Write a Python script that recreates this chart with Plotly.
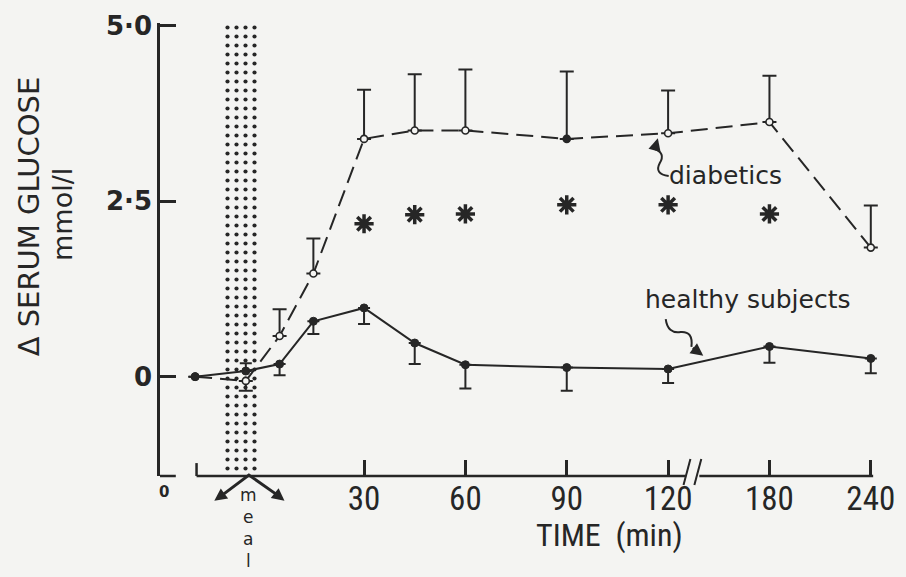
import plotly.graph_objects as go

# Sampling times (min) relative to the end of the meal
times = [-20, -5, 5, 15, 30, 45, 60, 90, 120, 180, 240]

# Change in serum glucose (mmol/l), means with one-sided SEM bars
diabetics = [0.0, -0.06, 0.58, 1.47, 3.39, 3.51, 3.51, 3.39, 3.47, 3.63, 1.84]
diabetics_err_up = [0, 0, 0.38, 0.50, 0.70, 0.80, 0.87, 0.96, 0.61, 0.66, 0.60]
diabetics_err_down = [0, 0.14, 0, 0, 0, 0, 0, 0, 0, 0, 0]

healthy = [0.0, 0.08, 0.18, 0.79, 0.98, 0.48, 0.17, 0.13, 0.11, 0.43, 0.26]
healthy_err_up = [0, 0.11, 0, 0, 0, 0, 0, 0, 0, 0, 0]
healthy_err_down = [0, 0, 0.16, 0.18, 0.23, 0.30, 0.34, 0.33, 0.20, 0.23, 0.21]

# Significant group differences
sig_times = [30, 45, 60, 90, 120, 180]
sig_level = [2.18, 2.31, 2.32, 2.45, 2.45, 2.32]

# Axis ticks
x_ticks = [30, 60, 90, 120, 180, 240]
y_ticks = [0, 2.5, 5.0]
y_tick_text = ["0", "2·5", "5·0"]

# Meal period (min)
meal_start, meal_end = -12, -1.5

INK = "#262626"
PAPER = "#f4f4f2"
NARROW = "Liberation Sans Narrow, Roboto Condensed, DejaVu Sans Condensed, Arial Narrow, sans-serif"
SANS = "DejaVu Sans, Liberation Sans, sans-serif"

# Plot-area box in pixels (used for decorations drawn in paper space)
L, R, T, B = 160, 895, 20, 476
W_FIG, H_FIG = 906, 577


def axis_pos(t):
    """Broken time axis: 120-240 min is compressed to half scale."""
    return t if t <= 120 else 120 + (t - 120) / 2


def px(x):
    return (x - L) / (R - L)


def py(y):
    return (B - y) / (B - T)


xs = [axis_pos(t) for t in times]

fig = go.Figure()

# Dotted band marking the meal
fig.add_trace(go.Bar(
    x=[(axis_pos(meal_start) + axis_pos(meal_end)) / 2],
    y=[6.8], base=[-1.6],
    width=[axis_pos(meal_end) - axis_pos(meal_start)],
    marker=dict(color="rgba(0,0,0,0)", line_width=0,
                pattern=dict(shape=".", fgcolor=INK, bgcolor="rgba(0,0,0,0)",
                             size=9, solidity=0.17, fillmode="replace")),
    hoverinfo="skip",
))

# Healthy subjects: solid line, filled dots, bars downwards
fig.add_trace(go.Scatter(
    x=xs, y=healthy, mode="lines+markers",
    line=dict(color=INK, width=2),
    marker=dict(symbol="circle", size=8, color=INK, line=dict(color=INK, width=1)),
    error_y=dict(type="data", symmetric=False, array=healthy_err_up,
                 arrayminus=healthy_err_down, color=INK, thickness=2, width=6),
    name="healthy subjects",
))

# Diabetics: dashed line, open circles, bars upwards
fill = [INK if t in (-20, 90) else PAPER for t in times]
fig.add_trace(go.Scatter(
    x=xs, y=diabetics, mode="lines+markers",
    line=dict(color=INK, width=2, dash="17px,8px"),
    marker=dict(symbol="circle", size=7, color=fill, line=dict(color=INK, width=1.6)),
    error_y=dict(type="data", symmetric=False, array=diabetics_err_up,
                 arrayminus=diabetics_err_down, color=INK, thickness=2, width=7),
    name="diabetics",
))

# Asterisks for significant differences
fig.add_trace(go.Scatter(
    x=[axis_pos(t) for t in sig_times], y=sig_level, mode="markers",
    marker=dict(symbol="asterisk-open", size=16, color=INK,
                line=dict(color=INK, width=3.5)),
    hoverinfo="skip",
))

shapes = []
line_style = dict(color=INK, width=2.5)
# x axis drawn in two pieces with a break after 120 min
shapes.append(dict(type="line", xref="paper", yref="paper",
                   x0=px(197), x1=px(692), y0=0, y1=0, line=line_style))
shapes.append(dict(type="line", xref="paper", yref="paper",
                   x0=px(706), x1=px(882), y0=0, y1=0, line=line_style))
shapes.append(dict(type="line", xref="paper", yref="paper",
                   x0=px(197), x1=px(197), y0=0, y1=py(B - 13), line=line_style))
for x0 in (690, 701):
    shapes.append(dict(type="line", xref="paper", yref="paper",
                       x0=px(x0), x1=px(x0 + 7), y0=py(B + 9), y1=py(B - 17),
                       line=dict(color=INK, width=2)))
# foot of the y axis
shapes.append(dict(type="line", xref="paper", yref="paper",
                   x0=0, x1=px(L + 16), y0=0, y1=0, line=line_style))
# meal chevron
shapes.append(dict(type="path", xref="paper", yref="paper",
                   path=f"M {px(222)},{py(496)} L {px(250)},{py(475)} L {px(280)},{py(496)}",
                   line=dict(color=INK, width=3)))
# wavy pointers to the curve labels
shapes.append(dict(type="path", xref="paper", yref="paper",
                   path=(f"M {px(675)},{py(174)} Q {px(660)},{py(172)} {px(666)},{py(161)} "
                         f"Q {px(672)},{py(151)} {px(661)},{py(147)}"),
                   line=dict(color=INK, width=2)))
shapes.append(dict(type="path", xref="paper", yref="paper",
                   path=(f"M {px(672)},{py(318)} Q {px(674)},{py(333)} {px(687)},{py(331)} "
                         f"Q {px(700)},{py(330)} {px(698)},{py(346)}"),
                   line=dict(color=INK, width=2)))

annotations = []


def text(x, y, s, size, family=SANS, weight="normal", angle=0, yanchor="middle"):
    annotations.append(dict(xref="paper", yref="paper", x=px(x), y=py(y), text=s,
                            showarrow=False, textangle=angle, xanchor="center",
                            yanchor=yanchor,
                            font=dict(family=family, size=size, color=INK, weight=weight)))


def arrow(x_head, y_head, x_tail, y_tail, size=1.0):
    annotations.append(dict(xref="paper", yref="paper", x=px(x_head), y=py(y_head),
                            ax=x_tail - x_head, ay=y_tail - y_head, text="",
                            showarrow=True, arrowhead=2, arrowsize=size,
                            arrowwidth=2.5, arrowcolor=INK))


text(27, 215, "Δ SERUM GLUCOSE", 29, angle=-90)
text(62, 213, "mmol/l", 27, angle=-90)
text(615, 535, "TIME  (min)", 32, family=NARROW)
text(164, 492, "0", 15, weight="bold")
text(733, 174, "diabetics", 25)
text(755, 298, "healthy subjects", 25)
# the word "meal" set vertically under the chevron
text(250, 483, "m<br>e<br>a<br>l", 17, yanchor="top")
arrow(215, 501, 226, 493, 1.0)
arrow(286, 501, 276, 493, 1.0)
arrow(664, 136, 661, 147, 1.0)
arrow(710, 355, 698, 346, 1.0)

fig.update_layout(
    width=W_FIG, height=H_FIG,
    margin=dict(l=L, r=W_FIG - R, t=T, b=H_FIG - B),
    paper_bgcolor=PAPER, plot_bgcolor=PAPER,
    showlegend=False, barmode="overlay",
    shapes=shapes, annotations=annotations,
    font=dict(family=SANS, color=INK),
)
x_lo = -30.4
x_hi = 184.5
fig.update_xaxes(
    range=[x_lo, x_hi], showgrid=False, zeroline=False, showline=False,
    tickmode="array", tickvals=[axis_pos(t) for t in x_ticks],
    ticktext=[str(t) for t in x_ticks],
    ticks="inside", ticklen=16, tickwidth=2.5, tickcolor=INK,
    tickfont=dict(family=NARROW, size=33, color=INK),
)
fig.update_yaxes(
    range=[-1.416, 5.042], showgrid=False, zeroline=False,
    showline=True, linewidth=2.5, linecolor=INK,
    tickmode="array", tickvals=y_ticks, ticktext=y_tick_text,
    ticks="inside", ticklen=16, tickwidth=2.5, tickcolor=INK,
    tickfont=dict(family=SANS, size=26, color=INK, weight="bold"),
)

fig.write_html("out.html")
